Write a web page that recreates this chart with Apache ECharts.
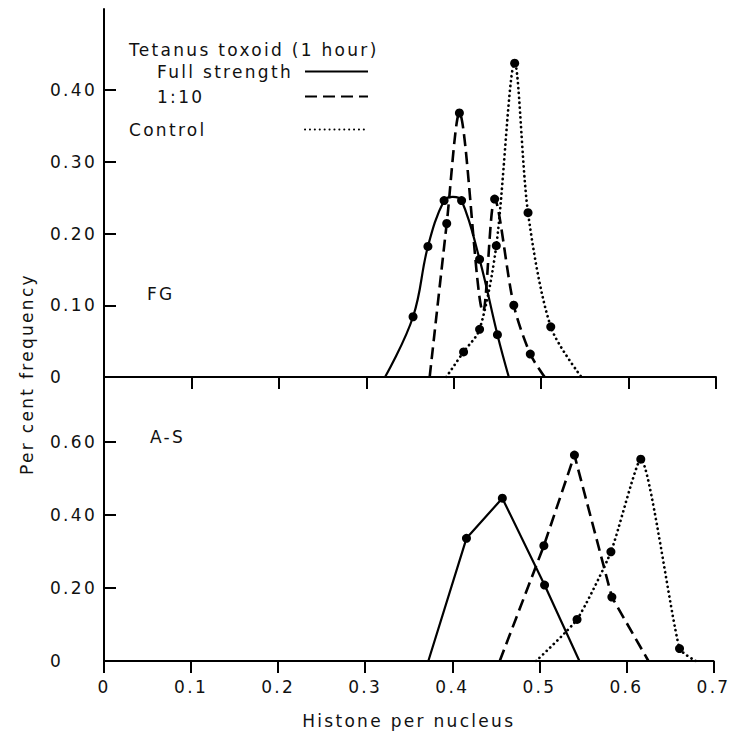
<!DOCTYPE html>
<html>
<head>
<meta charset="utf-8">
<script src="https://cdn.jsdelivr.net/npm/echarts@6/dist/echarts.min.js"></script>
<style>
html,body{margin:0;padding:0;background:#fff;}
#chart{width:730px;height:733px;}
#chart svg text{letter-spacing:2.3px;}
</style>
</head>
<body>
<div id="chart"></div>
<script>
// ---- tick values / labels ----
const xTicks = [0, 0.1, 0.2, 0.3, 0.4, 0.5, 0.6, 0.7];
const xTickLabels = ['0', '0.1', '0.2', '0.3', '0.4', '0.5', '0.6', '0.7'];
const fgYTicks = [0, 0.1, 0.2, 0.3, 0.4];
const fgYTickLabels = ['0', '0.10', '0.20', '0.30', '0.40'];
const asYTicks = [0, 0.2, 0.4, 0.6];
const asYTickLabels = ['0', '0.20', '0.40', '0.60'];

// ---- text ----
const seriesNames = ['Full strength', '1:10', 'Control'];
const legendTitle = 'Tetanus toxoid (1 hour)';
const panelNames = ['FG', 'A-S'];
const xAxisName = 'Histone per nucleus';
const yAxisName = 'Per cent frequency';

// ---- FG panel (top) ----
const fgFullX = [0.3215, 0.3535, 0.3705, 0.3890, 0.3990, 0.4090, 0.4296, 0.4500, 0.4630];
const fgFullY = [0, 0.084, 0.182, 0.246, 0.251, 0.246, 0.164, 0.059, 0];
const fgFullMeasured = [false, true, true, true, false, true, true, true, false];

const fgTenthX = [0.3725, 0.3920, 0.4065, 0.4336, 0.4468, 0.4687, 0.4876, 0.5040];
const fgTenthY = [0, 0.214, 0.368, 0.091, 0.248, 0.100, 0.032, 0];
const fgTenthMeasured = [false, true, true, false, true, true, true, false];

const fgControlX = [0.3915, 0.4113, 0.4296, 0.4487, 0.4697, 0.4850, 0.5110, 0.5460];
const fgControlY = [0, 0.035, 0.0665, 0.183, 0.4375, 0.229, 0.070, 0];
const fgControlMeasured = [false, true, true, true, true, true, true, false];

// ---- A-S panel (bottom) ----
const asFullX = [0.3725, 0.4163, 0.4575, 0.5060, 0.5460];
const asFullY = [0, 0.336, 0.446, 0.208, 0];
const asFullMeasured = [false, true, true, true, false];

const asTenthX = [0.4545, 0.5052, 0.5403, 0.5833, 0.6253];
const asTenthY = [0, 0.316, 0.564, 0.175, 0];
const asTenthMeasured = [false, true, true, true, false];

const asControlX = [0.4963, 0.5433, 0.5822, 0.6165, 0.6610, 0.6794];
const asControlY = [0, 0.114, 0.299, 0.553, 0.034, 0];
const asControlMeasured = [false, true, true, true, true, false];

// ---- styling ----
const FONT = '"DejaVu Sans", sans-serif';
const INK = '#111';
const lineStyles = {
  'Full strength': { color: '#000', width: 2.2, type: 'solid' },
  '1:10': { color: '#000', width: 2.6, type: [12, 6] },
  'Control': { color: '#000', width: 2.7, type: [0.1, 4.8], cap: 'round' }
};

function labelFrom(ticks, labels) {
  return function (v) {
    for (let i = 0; i < ticks.length; i++) {
      if (Math.abs(v - ticks[i]) < 1e-6) return labels[i];
    }
    return '';
  };
}

function makeSeries(name, xs, ys, measured, idx, smooth) {
  const data = xs.map(function (x, i) {
    const item = { value: [x, ys[i]] };
    if (!measured[i]) item.symbol = 'none';
    return item;
  });
  return {
    type: 'line',
    name: name,
    xAxisIndex: idx,
    yAxisIndex: idx,
    data: data,
    smooth: smooth,
    symbol: 'circle',
    symbolSize: 9,
    showSymbol: true,
    itemStyle: { color: '#000' },
    lineStyle: lineStyles[name],
    z: 3
  };
}

const axisLineStyle = { color: '#000', width: 2 };

function xAxisCfg(gridIndex, showLabels) {
  return {
    type: 'value', gridIndex: gridIndex, min: 0, max: 0.7, interval: 0.1,
    axisLine: { show: true, lineStyle: axisLineStyle },
    axisTick: { show: true, length: 12, lineStyle: { color: '#000', width: 2 } },
    axisLabel: {
      show: showLabels, margin: 17, fontSize: 17, color: INK, fontFamily: FONT,
      formatter: labelFrom(xTicks, xTickLabels)
    },
    splitLine: { show: false },
    name: showLabels ? xAxisName : '',
    nameLocation: 'middle',
    nameGap: 51,
    nameTextStyle: { fontSize: 17, color: INK, fontFamily: FONT }
  };
}

function yAxisCfg(gridIndex, max, interval, ticks, labels) {
  return {
    type: 'value', gridIndex: gridIndex, min: 0, max: max, interval: interval,
    axisLine: { show: true, lineStyle: axisLineStyle },
    axisTick: { show: true, inside: true, length: 12, customValues: ticks,
      lineStyle: { color: '#000', width: 2 } },
    axisLabel: {
      show: true, customValues: ticks, align: 'left', margin: 54,
      fontSize: 17, color: INK, fontFamily: FONT,
      formatter: labelFrom(ticks, labels)
    },
    splitLine: { show: false }
  };
}

function legendCfg(name, left, top, textWidth) {
  return {
    show: true, data: [name], left: left, top: top, orient: 'vertical', align: 'right',
    padding: 0, itemWidth: 63, itemHeight: 14, selectedMode: false,
    itemStyle: { opacity: 0 },
    formatter: function (n) { return '{a|' + n + '}'; },
    textStyle: {
      fontSize: 17, color: INK, fontFamily: FONT,
      rich: { a: { width: textWidth, align: 'left', fontSize: 17, color: INK, fontFamily: FONT } }
    }
  };
}

const titleText = { fontSize: 17, fontWeight: 'normal', color: INK, fontFamily: FONT, lineHeight: 20 };

const option = {
  animation: false,
  backgroundColor: '#fff',
  title: [
    { text: legendTitle, left: 129, top: 40, padding: 0, textStyle: titleText },
    { text: panelNames[0], left: 147, top: 284, padding: 0, textStyle: titleText },
    { text: panelNames[1], left: 150, top: 427, padding: 0, textStyle: titleText }
  ],
  legend: [
    legendCfg(seriesNames[0], 157, 63, 143),
    legendCfg(seriesNames[1], 157, 88, 143),
    legendCfg(seriesNames[2], 129, 121, 171)
  ],
  grid: [
    { left: 104, right: 14, top: 9, height: 368 },
    { left: 104, right: 14, top: 377, height: 284 }
  ],
  xAxis: [xAxisCfg(0, false), xAxisCfg(1, true)],
  yAxis: [
    yAxisCfg(0, 0.513, 0.1, fgYTicks, fgYTickLabels),
    yAxisCfg(1, 0.778, 0.2, asYTicks, asYTickLabels)
  ],
  graphic: [{
    type: 'text', x: 27, y: 374, rotation: Math.PI / 2,
    style: { text: yAxisName, fontSize: 17, fontFamily: FONT, fill: INK,
      align: 'center', verticalAlign: 'middle' }
  }],
  series: [
    makeSeries(seriesNames[0], fgFullX, fgFullY, fgFullMeasured, 0, 0.4),
    makeSeries(seriesNames[1], fgTenthX, fgTenthY, fgTenthMeasured, 0, 0.3),
    makeSeries(seriesNames[2], fgControlX, fgControlY, fgControlMeasured, 0, 0.3),
    makeSeries(seriesNames[0], asFullX, asFullY, asFullMeasured, 1, false),
    makeSeries(seriesNames[1], asTenthX, asTenthY, asTenthMeasured, 1, false),
    makeSeries(seriesNames[2], asControlX, asControlY, asControlMeasured, 1, 0.18)
  ]
};

const chart = echarts.init(document.getElementById('chart'), null, { renderer: 'svg' });
chart.setOption(option);
</script>
</body>
</html>
